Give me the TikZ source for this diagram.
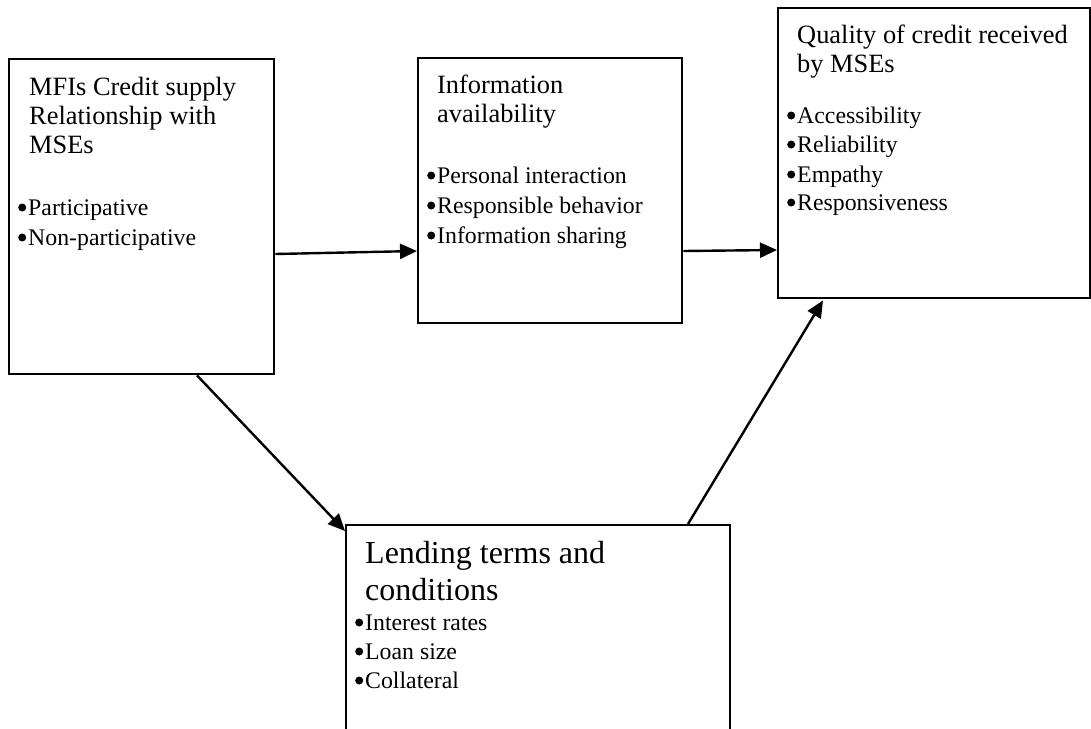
\documentclass[tikz,border=0pt]{standalone}
\usepackage{fontspec}
\setmainfont{Liberation Serif}
\usetikzlibrary{arrows.meta}
\newcommand\mybul{\makebox[10pt][l]{\tikz[baseline=0pt]\fill (4.6pt,7.5pt) circle (4pt);}}
\begin{document}
\begin{tikzpicture}[x=1pt,y=-1pt,
  box/.style={draw,line width=2.4pt,inner sep=0pt,anchor=north west},
  head/.style={anchor=base west,inner sep=0pt,font=\fontsize{26.4}{28}\selectfont},
  big/.style={anchor=base west,inner sep=0pt,font=\fontsize{32}{36}\selectfont},
  item/.style={anchor=base west,inner sep=0pt,font=\fontsize{23.8}{29}\selectfont},
  arr/.style={line width=2.4pt,-{Triangle[length=17pt,width=15pt]}}]
\useasboundingbox (0,0) rectangle (1091,728);
\clip (0,0) rectangle (1091,728);
\fill[white] (0,0) rectangle (1091,728);
% boxes
\node[box,minimum width=265pt,minimum height=315pt] (A) at (8,58) {};
\node[box,minimum width=264pt,minimum height=265pt] (B) at (417,57) {};
\node[box,minimum width=312pt,minimum height=290pt] (C) at (777,7) {};
\node[box,minimum width=384pt,minimum height=230pt] (D) at (345,524) {};
% box A text
\node[head] (a1) at (29,95) {MFIs Credit supply};
\node[head] (a2) at (29,124) {Relationship with};
\node[head] (a3) at (29,153) {MSEs};
\node[item] (a4) at (18,215) {\mybul Participative};
\node[item] (a5) at (18,245) {\mybul Non-participative};
% box B text
\node[head] (b1) at (437,93) {Information};
\node[head] (b2) at (437,122) {availability};
\node[item] (b3) at (427,183) {\mybul Personal interaction};
\node[item] (b4) at (427,213) {\mybul Responsible behavior};
\node[item] (b5) at (427,243) {\mybul Information sharing};
% box C text
\node[head] (c1) at (797,43) {Quality of credit received};
\node[head] (c2) at (797,72) {by MSEs};
\node[item] (c3) at (787,123) {\mybul Accessibility};
\node[item] (c4) at (787,152) {\mybul Reliability};
\node[item] (c5) at (787,182) {\mybul Empathy};
\node[item] (c6) at (787,210) {\mybul Responsiveness};
% box D text
\node[big] (d1) at (365,563) {Lending terms and};
\node[big] (d2) at (365,600) {conditions};
\node[item] (d3) at (355,630) {\mybul Interest rates};
\node[item] (d4) at (355,659) {\mybul Loan size};
\node[item] (d5) at (355,688) {\mybul Collateral};
% connectors
\draw[arr] ([yshift=-196pt]A.north east) -- ([yshift=-194pt]B.north west);
\draw[arr] ([yshift=-194pt]B.north east) -- ([yshift=-243pt]C.north west);
\draw[arr] ([xshift=189pt]A.south west) -- ([yshift=-7pt]D.north west);
\draw[arr] ([xshift=343pt]D.north west) -- ([xshift=46pt,yshift=-1pt]C.south west);
\end{tikzpicture}
\end{document}
